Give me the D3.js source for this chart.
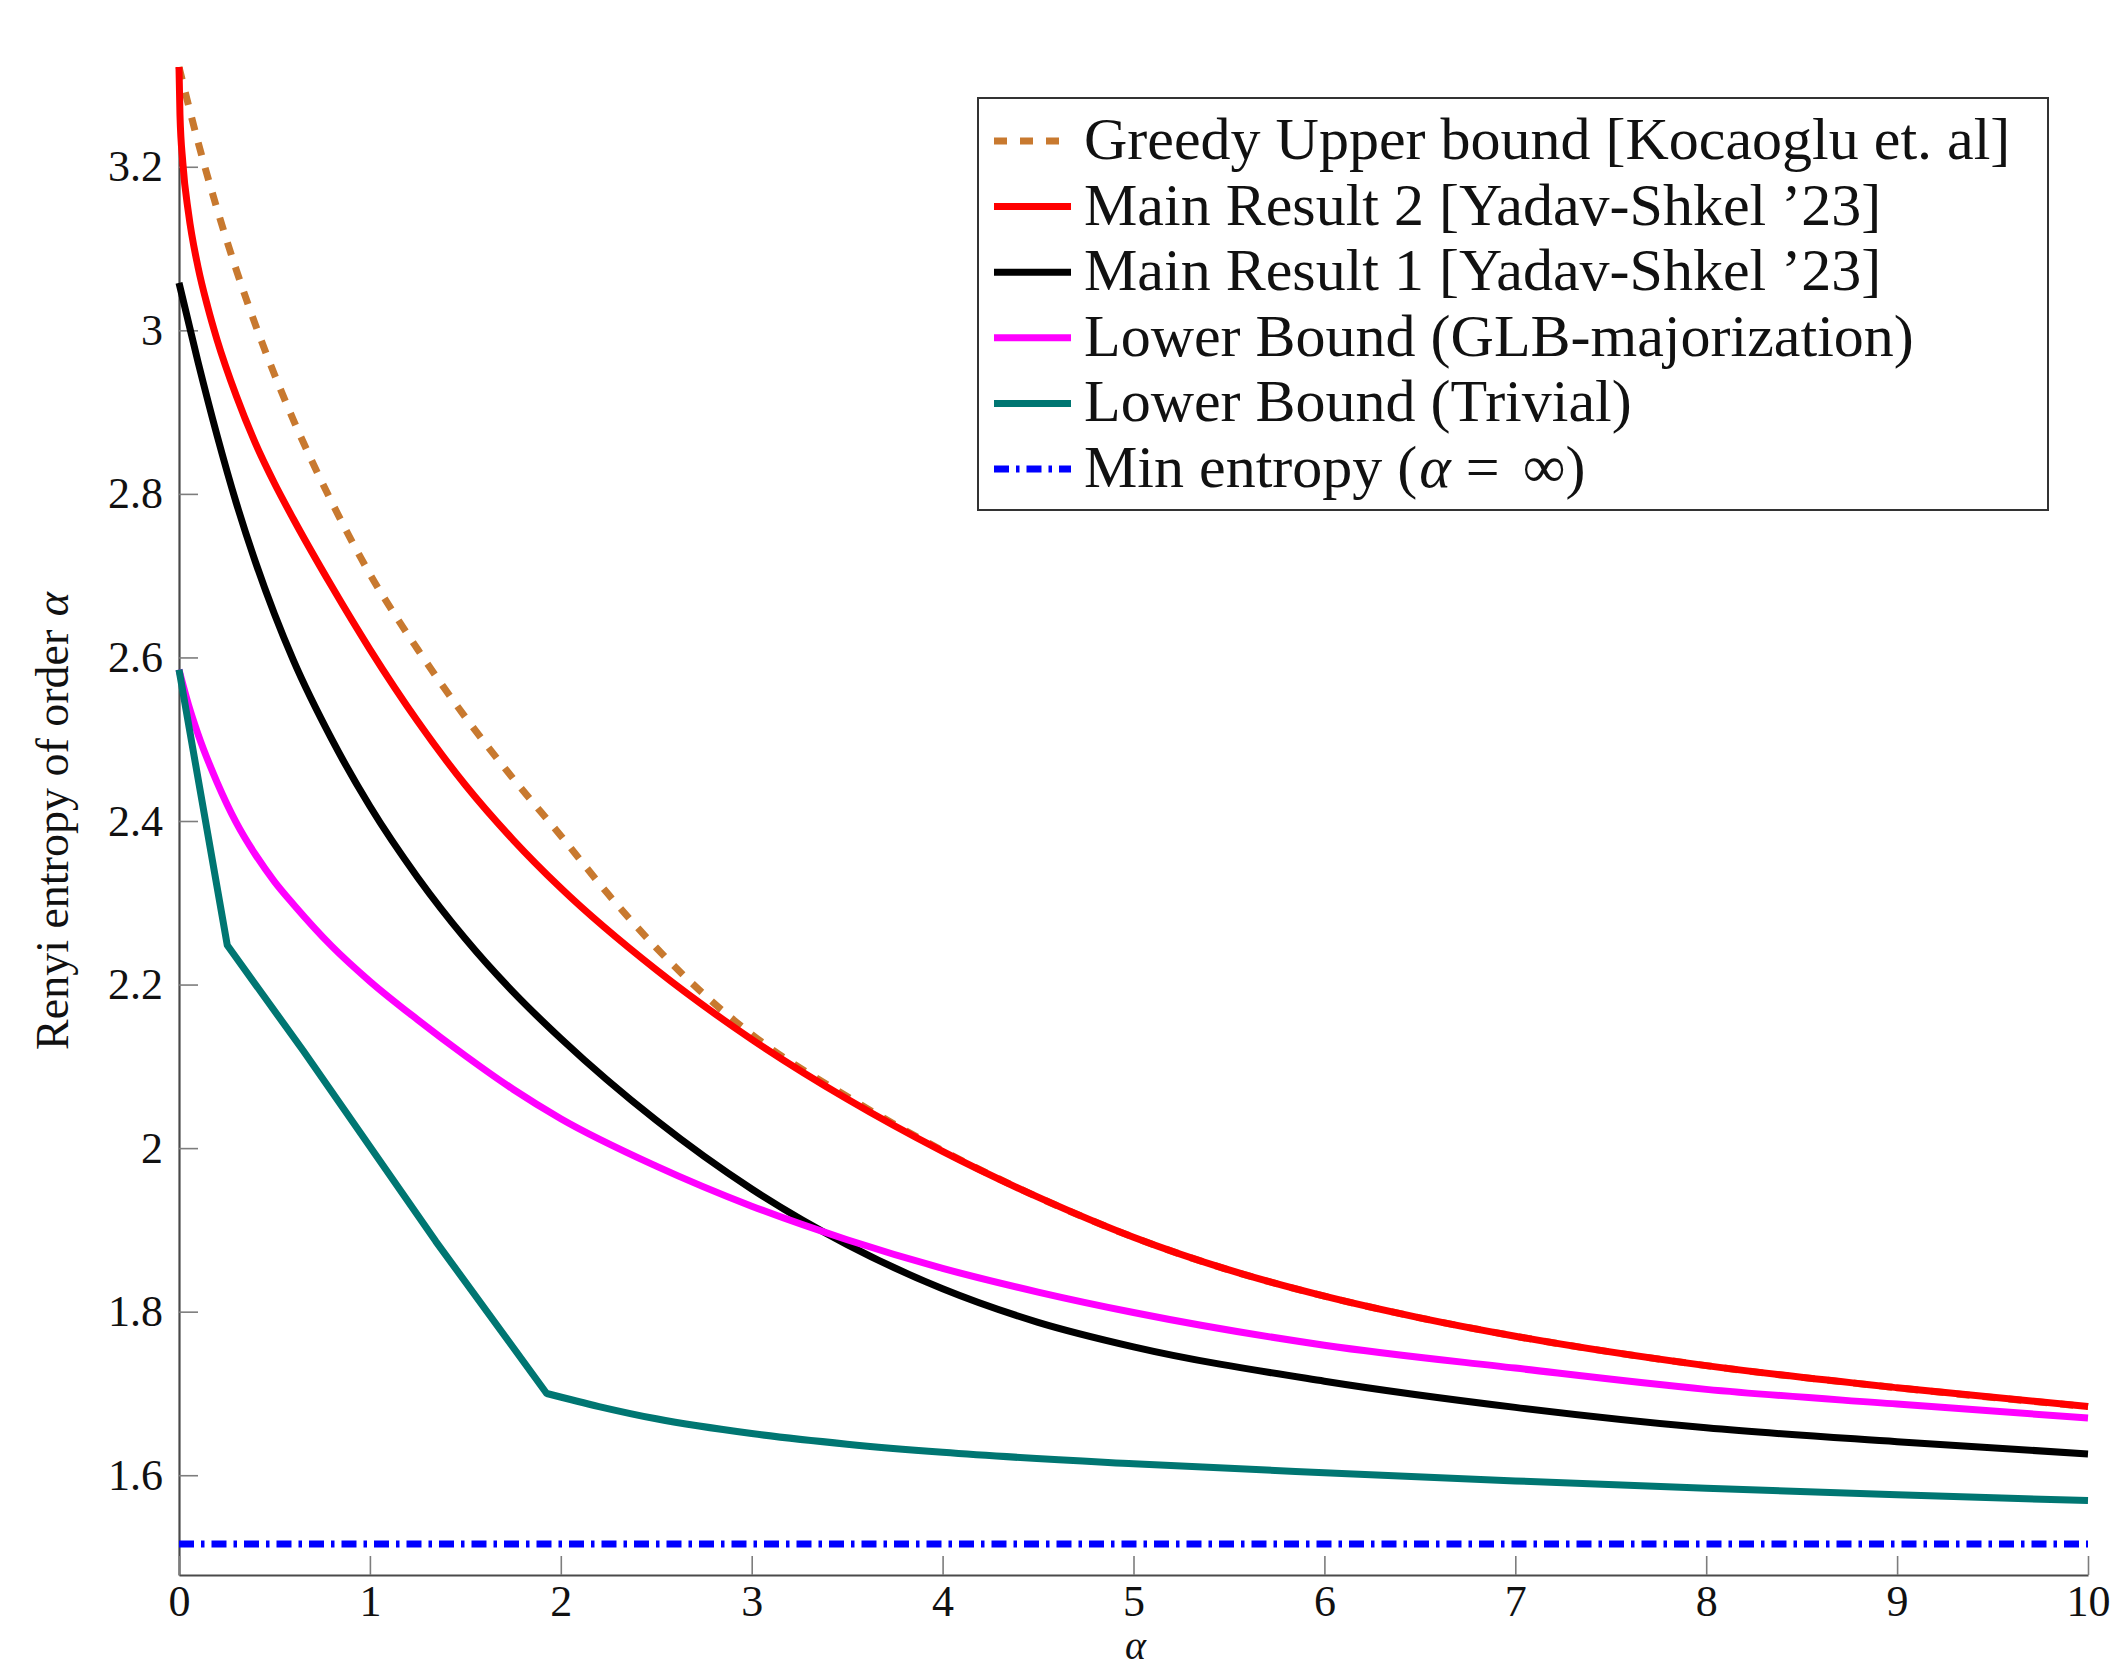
<!DOCTYPE html>
<html><head><meta charset="utf-8">
<script src="https://cdn.jsdelivr.net/npm/d3@7"></script>
<style>body{margin:0;background:#fff} svg{display:block}</style>
</head><body>
<script>
// ---- data ----
const greedyAlpha = [0,0.1,0.2,0.3,0.4,0.5,0.6,0.8,1,1.25,1.5,1.75,2,2.25,2.5,2.75,3,3.5,4,4.5,5,5.5,6,6.5,7,8,9,10];
const greedyH     = [3.322,3.23,3.148,3.074,3.007,2.946,2.89,2.79,2.702,2.61,2.527,2.452,2.382,2.31,2.245,2.188,2.139,2.063,1.997,1.940,1.891,1.851,1.819,1.7925,1.770,1.734,1.707,1.684];

const main2Alpha = [0,0.005,0.02,0.05,0.1,0.15,0.2,0.3,0.4,0.5,0.6,0.8,1,1.25,1.5,1.75,2,2.5,3,3.5,4,4.5,5,5.5,6,6.5,7,8,9,10];
const main2H     = [3.322,3.264,3.205,3.143,3.077,3.029,2.988,2.92,2.862,2.813,2.769,2.687,2.61,2.522,2.444,2.377,2.318,2.218,2.133,2.06,1.996,1.94,1.891,1.851,1.819,1.7925,1.770,1.734,1.707,1.684];

const main1Alpha = [0,0.1,0.2,0.3,0.4,0.5,0.6,0.8,1,1.25,1.5,1.75,2,2.5,3,3.5,4,4.5,5,6,7,8,9,10];
const main1H     = [3.058,2.961,2.871,2.789,2.717,2.653,2.596,2.5,2.418,2.331,2.256,2.191,2.134,2.034,1.950,1.882,1.828,1.787,1.757,1.715,1.683,1.658,1.641,1.626];

const glbAlpha = [0,0.05,0.1,0.2,0.3,0.4,0.5,0.6,0.8,1,1.25,1.5,1.75,2,2.5,3,3.5,4,4.5,5,6,7,8,9,10];
const glbH     = [2.585,2.542,2.506,2.447,2.398,2.359,2.326,2.298,2.247,2.204,2.157,2.113,2.072,2.036,1.978,1.929,1.888,1.853,1.824,1.799,1.759,1.731,1.705,1.687,1.670];

const trivialAlpha = [0,0.253,0.651,1.345,1.926,2.2,2.5,3,3.5,4,5,6,7,8,9,10];
const trivialH     = [2.585,2.248,2.119,1.886,1.700,1.684,1.669,1.651,1.638,1.628,1.614,1.603,1.593,1.584,1.576,1.569];
const trivialKinkIndex = 4; // smooth part starts at the second corner

const minAlpha = [0,10];
const minH     = [1.516,1.516];

const xTicks = [0,1,2,3,4,5,6,7,8,9,10];
const yTicks = [1.6,1.8,2,2.2,2.4,2.6,2.8,3,3.2];
const yTickLabels = ["1.6","1.8","2","2.2","2.4","2.6","2.8","3","3.2"];

const legendLabels = [
  "Greedy Upper bound [Kocaoglu et. al]",
  "Main Result 2 [Yadav-Shkel \u201923]",
  "Main Result 1 [Yadav-Shkel \u201923]",
  "Lower Bound (GLB-majorization)",
  "Lower Bound (Trivial)",
  "Min entropy (\u03b1 = \u221e)"
];
const xLabel = "\u03b1";
const yLabel = "Renyi entropy of order \u03b1";

// ---- drawing ----
const W = 2111, H = 1668;
const FONT = "'Liberation Serif', 'Times New Roman', serif";
const svg = d3.select("body").append("svg").attr("width", W).attr("height", H)
  .style("background", "#fff");

const x = d3.scaleLinear().domain([0, 10]).range([179, 2088]);
const y = d3.scaleLinear().domain([1.478, 3.322]).range([1575, 67]);

// axes
const yAxis = d3.axisLeft(y).tickValues(yTicks)
  .tickFormat((d, i) => yTickLabels[i]).tickSizeInner(-19).tickSizeOuter(0).tickPadding(16);
const xAxis = d3.axisBottom(x).tickValues(xTicks)
  .tickFormat(d => String(d)).tickSizeInner(-19).tickSizeOuter(0).tickPadding(10);

function styleAxis(g) {
  g.select(".domain").attr("stroke", "#4a4a4a").attr("stroke-width", 2.2);
  g.selectAll(".tick line").attr("stroke", "#7d7d7d").attr("stroke-width", 1.6);
  g.selectAll(".tick text").attr("fill", "#111").style("font-family", FONT).style("font-size", "44px");
  g.attr("font-family", null).attr("font-size", null);
}
svg.append("g").attr("transform", "translate(179,0)").call(yAxis).call(styleAxis);
svg.append("g").attr("transform", "translate(0,1575)").call(xAxis).call(styleAxis);

// text with italic alpha and a spaced infinity sign
function addMixed(textSel, str) {
  const tokens = str.split(/(\u03b1|\u221e)/);
  tokens.forEach(p => {
    if (!p.length) return;
    if (p === "\u03b1") textSel.append("tspan").style("font-style", "italic").attr("dx", 2).text(p);
    else if (p === "\u221e") textSel.append("tspan").attr("dx", 8).text(p);
    else textSel.append("tspan").text(p);
  });
}
const xl = svg.append("text").attr("x", x(5)).attr("y", 1659).attr("text-anchor", "middle")
  .style("font-family", FONT).style("font-size", "40px").attr("fill", "#111");
addMixed(xl, xLabel);
const yl = svg.append("text").attr("transform", "translate(68," + ((y.range()[0] + y.range()[1]) / 2) + ") rotate(-90)")
  .attr("text-anchor", "middle").style("font-family", FONT).style("font-size", "46px").attr("fill", "#111");
addMixed(yl, yLabel);

// series
const series = [
  {a: greedyAlpha,  v: greedyH,  color: "#c8792f", dash: "13,13"},
  {a: main2Alpha,   v: main2H,   color: "#ff0000", dash: null},
  {a: main1Alpha,   v: main1H,   color: "#000000", dash: null},
  {a: glbAlpha,     v: glbH,     color: "#ff00ff", dash: null},
  {a: trivialAlpha, v: trivialH, color: "#007672", dash: null, kink: trivialKinkIndex},
  {a: minAlpha,     v: minH,     color: "#0000ff", dash: "15,7,3.5,7"}
];

const plot = svg.append("g");
series.forEach(s => {
  const pts = s.a.map((a, i) => [x(a), y(s.v[i])]);
  let d;
  if (s.kink !== undefined) {
    const lin = d3.line().curve(d3.curveLinear)(pts.slice(0, s.kink + 1));
    const smooth = d3.line().curve(d3.curveMonotoneX)(pts.slice(s.kink));
    d = lin + "L" + smooth.slice(1);
  } else {
    d = d3.line().curve(d3.curveMonotoneX)(pts);
  }
  plot.append("path").attr("d", d)
    .attr("fill", "none").attr("stroke", s.color).attr("stroke-width", 7)
    .attr("stroke-linejoin", "round").attr("stroke-linecap", "butt")
    .attr("stroke-dasharray", s.dash);
});

// legend
const lg = svg.append("g");
lg.append("rect").attr("x", 978).attr("y", 98).attr("width", 2048 - 978).attr("height", 510 - 98)
  .attr("fill", "#fff").attr("stroke", "#333").attr("stroke-width", 2);
series.forEach((s, i) => {
  const cy = 141 + i * 65.6;
  lg.append("line").attr("x1", 994).attr("x2", 1071).attr("y1", cy).attr("y2", cy)
    .attr("stroke", s.color).attr("stroke-width", 7).attr("stroke-dasharray", s.dash);
  const t = lg.append("text").attr("x", 1084).attr("y", cy + 18)
    .style("font-family", FONT).style("font-size", "60px").attr("fill", "#111");
  addMixed(t, legendLabels[i]);
});
</script>
</body></html>
